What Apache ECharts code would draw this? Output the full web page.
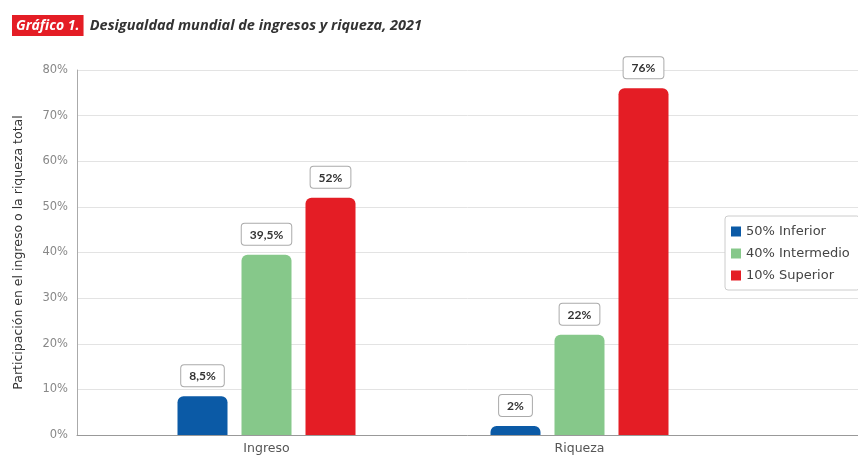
<!DOCTYPE html>
<html><head><meta charset="utf-8">
<script src="https://cdn.jsdelivr.net/npm/echarts@6/dist/echarts.min.js"></script>
<style>html,body{margin:0;padding:0;background:#fff}#c{width:858px;height:455px}</style>
</head><body><div id="c"></div>
<script>
const categories = ['Ingreso', 'Riqueza'];
const seriesNames = ['50% Inferior', '40% Intermedio', '10% Superior'];
const inferior = [8.5, 2];
const intermedio = [39.5, 22];
const superior = [52, 76];
const yTicks = [0, 10, 20, 30, 40, 50, 60, 70, 80];
const colors = ['#0b5aa6', '#86c88a', '#e41d25'];

const fmt = v => String(v).replace('.', ',') + '%';
const labelStyle = {
  show: true, position: 'top', distance: 10,
  formatter: p => fmt(p.value),
  backgroundColor: '#fff', borderColor: '#aaa', borderWidth: 1, borderRadius: 3,
  padding: [5, 8, 4, 8], color: '#333', fontWeight: 'bold', fontSize: 12, fontFamily: 'Lato'
};
const mk = (name, data, i) => ({
  name, type: 'bar', data, xAxisIndex: 1, yAxisIndex: 1,
  barWidth: 50, barGap: '28%',
  itemStyle: { color: colors[i], borderRadius: [6, 6, 0, 0] },
  label: labelStyle
});

const chart = echarts.init(document.getElementById('c'));
chart.setOption({
  animation: false,
  textStyle: { fontFamily: 'DejaVu Sans' },
  title: {
    left: 12, top: 15, padding: 0,
    text: '{b|Gráfico 1.} {t|Desigualdad mundial de ingresos y riqueza, 2021}',
    textStyle: {
      rich: {
        b: { backgroundColor: '#e41d25', color: '#fff', fontStyle: 'italic', fontWeight: 'bold', fontSize: 14, padding: [4, 4, 3, 4], fontFamily: 'Open Sans' },
        t: { color: '#333', fontStyle: 'italic', fontWeight: 'bold', fontSize: 14.5, fontFamily: 'Open Sans' }
      }
    }
  },
  legend: {
    orient: 'vertical', left: 725, top: 216,
    data: seriesNames,
    itemWidth: 10, itemHeight: 10, itemGap: 9,
    backgroundColor: '#fff', borderColor: '#ccc', borderWidth: 1, borderRadius: 3,
    padding: [9, 10, 8, 6],
    textStyle: { color: '#444', fontSize: 13, fontFamily: 'DejaVu Sans' },
    icon: 'rect'
  },
  grid: [
    { left: 77, right: 0, top: 70, bottom: 20 },
    { left: 110, right: 122, top: 70, bottom: 20 }
  ],
  xAxis: [
    { type: 'category', gridIndex: 0, data: [''], axisLine: { lineStyle: { color: '#999' } }, axisTick: { show: false }, axisLabel: { show: false } },
    { type: 'category', gridIndex: 1, data: categories, axisLine: { show: false }, axisTick: { show: false },
      axisLabel: { color: '#555', fontSize: 12.5, margin: 7, fontFamily: 'DejaVu Sans' } }
  ],
  yAxis: [
    { type: 'value', gridIndex: 0, min: 0, max: 80, interval: 10,
      name: 'Participación en el ingreso o la riqueza total', nameLocation: 'middle', nameGap: 52,
      nameTextStyle: { color: '#333', fontSize: 12.5, fontFamily: 'DejaVu Sans' },
      axisLine: { show: true, lineStyle: { color: '#aaa' } },
      axisLabel: { color: '#888', fontSize: 11.5, formatter: v => v + '%', margin: 9, fontFamily: 'DejaVu Sans' },
      splitLine: { lineStyle: { color: '#e3e3e3' } } },
    { type: 'value', gridIndex: 1, min: 0, max: 80, interval: 10, show: false, splitLine: { show: false } }
  ],
  series: [
    mk(seriesNames[0], inferior, 0),
    mk(seriesNames[1], intermedio, 1),
    mk(seriesNames[2], superior, 2)
  ]
});
</script></body></html>
